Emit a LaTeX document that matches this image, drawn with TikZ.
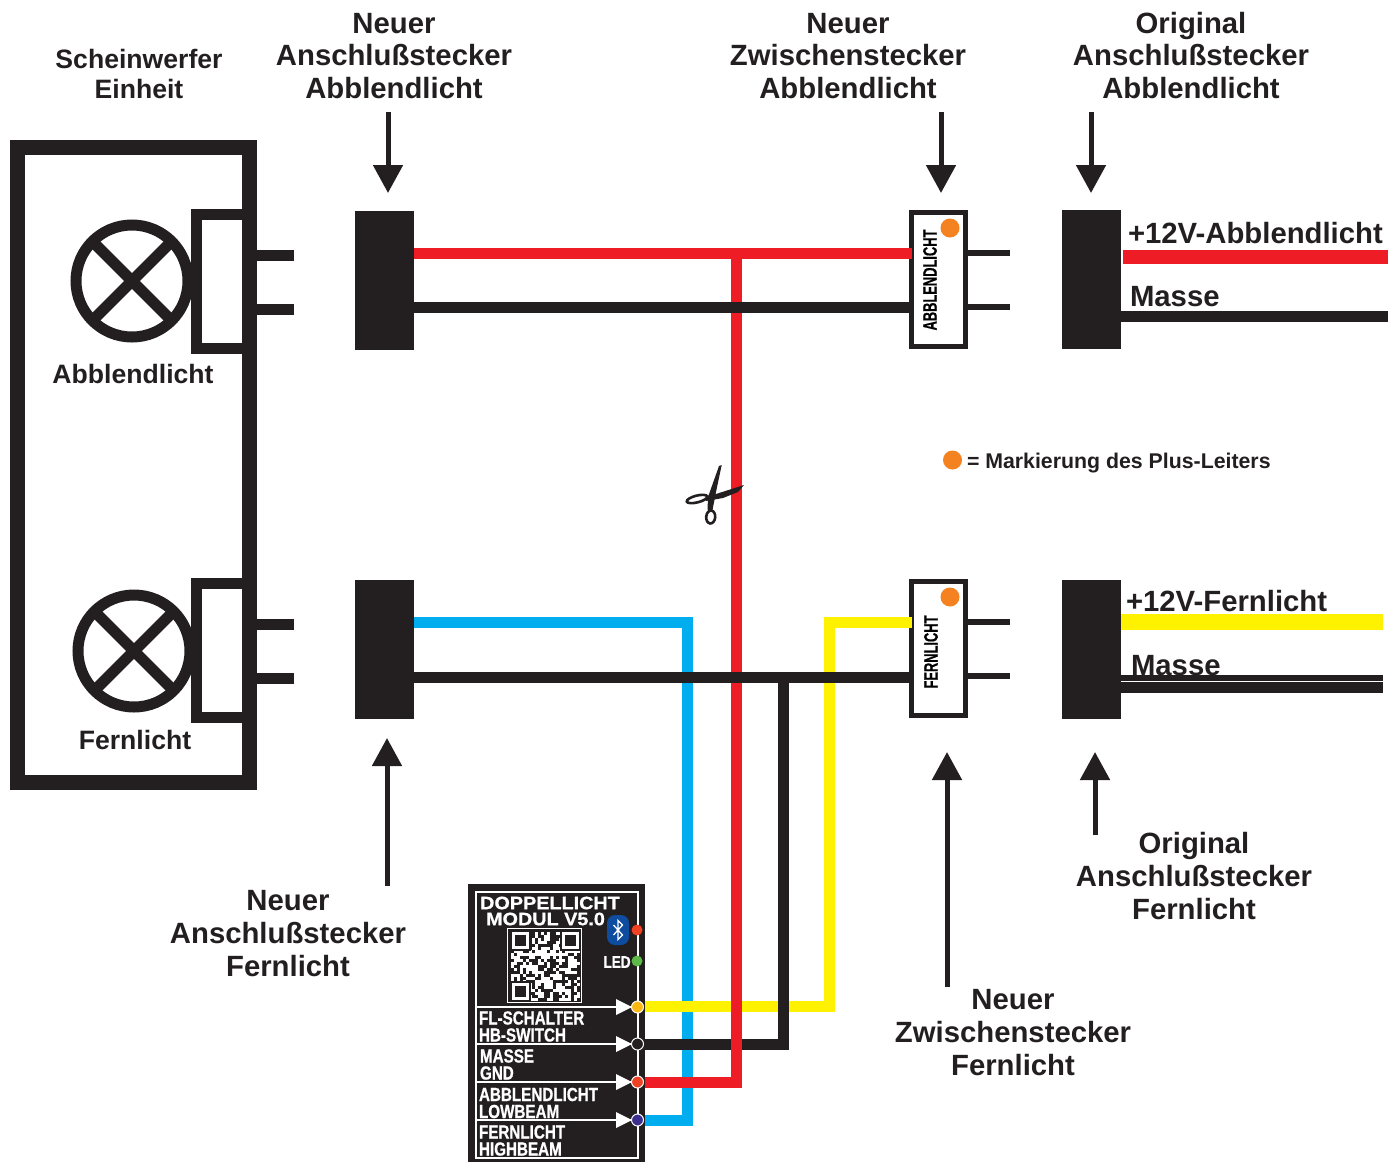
\documentclass[tikz,border=0pt]{standalone}
\usepackage{fontspec}
\setmainfont{Liberation Sans}
\newfontfamily\narrowfont[FakeStretch=0.8, FakeBold=0.8]{Liberation Sans Bold}
\newfontfamily\sidefont[FakeStretch=0.66, FakeBold=0.6]{Liberation Sans Bold}
\newfontfamily\widefont[FakeStretch=1.1, FakeBold=0.8]{Liberation Sans Bold}
\usetikzlibrary{positioning, arrows.meta}
\definecolor{inkblack}{HTML}{231F20}
\definecolor{wirered}{HTML}{EE1C25}
\definecolor{wireblue}{HTML}{00AEEF}
\definecolor{wireyellow}{HTML}{FFF200}
\definecolor{markorange}{HTML}{F58220}
\definecolor{btblue}{HTML}{0D4C9E}
\definecolor{dotgreen}{HTML}{5DB947}
\definecolor{dotred}{HTML}{EF4123}
\definecolor{dotamber}{HTML}{FDB913}
\definecolor{dotviolet}{HTML}{3A2E8F}

\begin{document}
\begin{tikzpicture}[x=1pt, y=-1pt, inner sep=0pt, outer sep=0pt, line join=miter,
    plug/.style={fill=inkblack, minimum width=59pt, minimum height=139pt},
    adapter/.style={draw=inkblack, fill=white, line width=5pt, minimum width=54pt, minimum height=134pt},
    socket/.style={draw=inkblack, fill=white, line width=11pt, minimum width=52pt, minimum height=134pt},
    lamp/.style={circle, draw=inkblack, fill=white, line width=11pt, minimum size=112pt},
    wire/.style={line width=11pt},
    pinline/.style={inkblack, line width=11pt},
    thinpin/.style={inkblack, line width=6pt},
    pointer/.style={inkblack, line width=5pt, -{Triangle[length=28pt, width=29pt]}},
    titletext/.style={font=\bfseries\fontsize{29.3}{32.7}\selectfont, text=inkblack, align=center},
    nametext/.style={font=\bfseries\fontsize{26.6}{30}\selectfont, text=inkblack, align=center},
    orangedot/.style={circle, fill=markorange, minimum size=19pt},
    platetext/.style={font=\narrowfont\fontsize{19}{17}\selectfont, text=white, anchor=west, align=left},
    port/.style={circle, draw=white, line width=1pt, minimum size=12pt},
    modtri/.style={fill=white, draw=none}]

  \useasboundingbox (0,0) rectangle (1396,1162);

  % Headlight unit
  \node[draw=inkblack, line width=15pt, minimum width=232pt, minimum height=635pt] (unit) at (133.5,465) {};
  \node[socket] (socketL) at (222,281.5) {};
  \node[socket] (socketH) at (222,650.5) {};
  \fill[inkblack] (242,209) rectangle (257,354);
  \fill[inkblack] (242,578) rectangle (257,723);
  \node[lamp] (lampL) at (132,281) {};
  \node[lamp] (lampH) at (134,651) {};
  \draw[inkblack, line width=11pt] (lampL.north west) -- (lampL.south east);
  \draw[inkblack, line width=11pt] (lampL.north east) -- (lampL.south west);
  \draw[inkblack, line width=11pt] (lampH.north west) -- (lampH.south east);
  \draw[inkblack, line width=11pt] (lampH.north east) -- (lampH.south west);

  % Pins on the unit
  \coordinate (pinL1) at (294,255);
  \coordinate (pinL2) at (294,309);
  \coordinate (pinH1) at (294,624);
  \coordinate (pinH2) at (294,678);
  \draw[pinline] (pinL1) -- (unit.east |- pinL1);
  \draw[pinline] (pinL2) -- (unit.east |- pinL2);
  \draw[pinline] (pinH1) -- (unit.east |- pinH1);
  \draw[pinline] (pinH2) -- (unit.east |- pinH2);

  % Plugs
  \node[plug] (plugL) at (384.5,280.5) {};
  \node[plug] (plugH) at (384.5,649.5) {};
  \node[plug] (origL) at (1091.5,279.5) {};
  \node[plug] (origH) at (1091.5,649.5) {};

  % Adapters
  \node[adapter] (adaptL) at (938.5,279.5) {};
  \node[adapter] (adaptH) at (938.5,648.5) {};
  \coordinate (adaptL1) at (1010,253);
  \coordinate (adaptL2) at (1010,307);
  \coordinate (adaptH1) at (1010,622);
  \coordinate (adaptH2) at (1010,676);
  \draw[thinpin] (adaptL.east |- adaptL1) -- (adaptL1);
  \draw[thinpin] (adaptL.east |- adaptL2) -- (adaptL2);
  \draw[thinpin] (adaptH.east |- adaptH1) -- (adaptH1);
  \draw[thinpin] (adaptH.east |- adaptH2) -- (adaptH2);
  \node[orangedot] (dotL) at (950,228) {};
  \node[orangedot] (dotH) at (950,597) {};
  \node[rotate=90, font=\sidefont\fontsize{19.5}{20}\selectfont, text=black] (textL) at (930,280) {ABBLENDLICHT};
  \node[rotate=90, font=\sidefont\fontsize{19.5}{20}\selectfont, text=black] (textH) at (931,652) {FERNLICHT};

  % Module
  \node[fill=inkblack, minimum width=177pt, minimum height=278pt] (module) at (556.5,1023) {};
  \node[draw=white, line width=1.2pt, minimum width=162pt, minimum height=266pt] (frame) at (557,1025) {};
  \coordinate (portY) at (637.5,1007);
  \coordinate (portK) at (637.5,1044);
  \coordinate (portR) at (637.5,1082);
  \coordinate (portB) at (637.5,1120);

  % Wires
  \coordinate (jointR) at (736,253.5);
  \coordinate (jointK) at (783.5,677);
  \coordinate (lowK) at (736,307.5);
  \coordinate (cornerB1) at (687.5,622);
  \coordinate (cornerB2) at (687.5,1120);
  \coordinate (cornerY1) at (829,622);
  \coordinate (cornerY2) at (829,1006);
  \coordinate (cornerK) at (783.5,1044);
  \coordinate (cornerR) at (736,1082);
  \draw[wire, wireblue] (plugH.east |- cornerB1) -- (cornerB1) -- (cornerB2) -- (module.east |- cornerB2);
  \draw[wire, wireyellow] (module.east |- cornerY2) -- (cornerY2) -- (cornerY1) -- (adaptH.west |- cornerY1);
  \draw[wire, inkblack] (module.east |- cornerK) -- (cornerK) -- (jointK);
  \draw[wire, wirered] (module.east |- cornerR) -- (cornerR) -- (jointR);
  \draw[wire, wirered] (plugL.east |- jointR) -- (adaptL.west |- jointR);
  \draw[wire, inkblack] (plugL.east |- lowK) -- (adaptL.west |- lowK);
  \draw[wire, inkblack] (plugH.east |- jointK) -- (adaptH.west |- jointK);

  % Outgoing wires
  \coordinate (outLR) at (1388,257);
  \coordinate (outLK) at (1388,316.5);
  \coordinate (outHY) at (1383,622);
  \coordinate (outHK) at (1383,678);
  \coordinate (outHK2) at (1383,687.3);
  \draw[wirered, line width=14pt] (origL.east |- outLR) ++(2,0) -- (outLR);
  \draw[inkblack, line width=11pt] (origL.east |- outLK) -- (outLK);
  \draw[wireyellow, line width=16pt] (origH.east |- outHY) -- (outHY);
  \draw[inkblack, line width=6pt] (origH.east |- outHK) -- (outHK);
  \draw[inkblack, line width=11.5pt] (origH.east |- outHK2) -- (outHK2);

  % Wire names
  \node[titletext, anchor=base west] (nameLR) at (1128,243) {+12V-Abblendlicht};
  \node[titletext, anchor=base west] (nameLK) at (1130,306) {Masse};
  \node[titletext, anchor=base west] (nameHY) at (1126,611) {+12V-Fernlicht};
  \node[titletext, anchor=base west] (nameHK) at (1131,675) {Masse};

  % Titles
  \node[nametext] (titleUnit) at (139,74) {Scheinwerfer\\Einheit};
  \node[titletext] (titleA) at (394,56) {Neuer\\Anschlußstecker\\Abblendlicht};
  \node[titletext] (titleB) at (848,56) {Neuer\\Zwischenstecker\\Abblendlicht};
  \node[titletext] (titleC) at (1191,55.5) {Original\\Anschlußstecker\\Abblendlicht};
  \node[nametext, anchor=base] (lampNameL) at (133,383.5) {Abblendlicht};
  \node[nametext, anchor=base] (lampNameH) at (135,749) {Fernlicht};
  \node[titletext] (titleD) at (288,933.5) {Neuer\\Anschlußstecker\\Fernlicht};
  \node[titletext] (titleE) at (1013,1032.5) {Neuer\\Zwischenstecker\\Fernlicht};
  \node[titletext] (titleF) at (1194,876) {Original\\Anschlußstecker\\Fernlicht};

  % Legend
  \node[orangedot] (legendDot) at (952.5,460) {};
  \node[font=\bfseries\fontsize{21.3}{24}\selectfont, text=inkblack, right=5pt of legendDot, yshift=-3pt] (legend) {= Markierung des Plus-Leiters};

  % Pointers
  \coordinate (ptrA) at (388,112);
  \coordinate (ptrB) at (941,112);
  \coordinate (ptrC) at (1091,112);
  \coordinate (ptrD) at (387,886);
  \coordinate (ptrE) at (947,987);
  \coordinate (ptrF) at (1095,835);
  \coordinate (tipA) at (388,193);
  \coordinate (tipB) at (941,193);
  \coordinate (tipC) at (1091,193);
  \coordinate (tipD) at (387,738);
  \coordinate (tipE) at (947,752);
  \coordinate (tipF) at (1095,752);
  \foreach \from/\to in {ptrA/tipA,ptrB/tipB,ptrC/tipC,ptrD/tipD,ptrE/tipE,ptrF/tipF}
    \draw[pointer] (\from) -- (\to);

  % Scissors
  \fill[inkblack] (721.7,465) -- (719,466) -- (708,497) -- (707.5,510) -- (712.5,510) -- (716,492) -- cycle;
  \fill[inkblack] (744,485) -- (716,494) -- (706,496) -- (706,501) -- (723,498) -- (738,492) -- cycle;
  \draw[inkblack, line width=2.6pt, rotate around={14:(697,499)}] (697,499) ellipse (10.5pt and 3.4pt);
  \draw[inkblack, line width=2.6pt, rotate around={-5:(710.7,517)}] (710.7,517) ellipse (4.5pt and 6.5pt);

  % Module face
  \node[font=\widefont\fontsize{18}{16}\selectfont, text=white, align=center] (modTitle) at (550,911) {DOPPELLICHT\\MODUL V5.0\hspace*{9pt}};
  \foreach \yy in {1007,1044,1082,1120}{
    \coordinate (rowL) at (frame.west |- 0,\yy);
    \coordinate (rowR) at (632,\yy);
    \draw[white, line width=1.2pt] (rowL) -- (rowR);
    \fill[modtri] (616,\yy-8) -- (rowR) -- (616,\yy+8) -- cycle;
  }
  \node[platetext] (plateA) at (479,1026.5) {FL-SCHALTER\\HB-SWITCH};
  \node[platetext] (plateB) at (480,1064.5) {MASSE\\GND};
  \node[platetext] (plateC) at (479,1103) {ABBLENDLICHT\\LOWBEAM};
  \node[platetext] (plateD) at (479,1140.5) {FERNLICHT\\HIGHBEAM};
  \node[port, fill=dotamber] (dotY) at (portY) {};
  \node[port, fill=inkblack] (dotK) at (portK) {};
  \node[port, fill=dotred] (dotR) at (portR) {};
  \node[port, fill=dotviolet] (dotB) at (portB) {};
  \node[circle, fill=dotred, minimum size=11pt] (ledR) at (637,930) {};
  \node[circle, fill=dotgreen, minimum size=11pt] (ledG) at (637,961) {};
  \node[font=\narrowfont\fontsize{17}{19}\selectfont, text=white] (ledText) at (617,962) {LED};
  \node[fill=btblue, rounded corners=8pt, minimum width=22pt, minimum height=30pt] (btBadge) at (618,930) {};
  \draw[white, line width=1.3pt] (613.5,925) -- (622.5,935) -- (618,939.5) -- (618,920.5) -- (622.5,925) -- (613.5,935);

  % Code
  \draw[white, line width=1.6pt] (507.5,928.5) rectangle (581.5,1002.5);
  \pgfmathsetseed{41}
  \foreach \xx in {0,...,22}{
    \foreach \yy in {0,...,22}{
      \pgfmathsetmacro{\cellon}{rnd}
      \ifdim\cellon pt<0.52pt
        \fill[white] ({511+\xx*3},{932+\yy*3}) rectangle ++(3,3);
      \fi
    }
  }
  \foreach \xx/\yy in {510/930,560/930,510/981}{
    \fill[inkblack] (\xx,\yy) rectangle (\xx+21,\yy+21);
    \draw[white, line width=3pt] (\xx+3.5,\yy+3.5) rectangle (\xx+17.5,\yy+17.5);
  }
\end{tikzpicture}
\end{document}
